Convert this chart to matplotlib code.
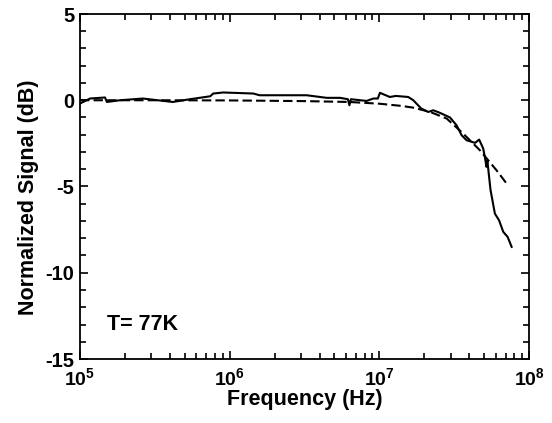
import matplotlib
matplotlib.use("Agg")
import matplotlib.pyplot as plt
import numpy as np
from matplotlib.ticker import LogLocator, MultipleLocator, LogFormatterMathtext

plt.rcParams['font.family'] = ['Liberation Sans', 'DejaVu Sans']
plt.rcParams['font.weight'] = 'bold'
plt.rcParams['axes.unicode_minus'] = False
plt.rcParams['mathtext.fontset'] = 'custom'
plt.rcParams['mathtext.rm'] = 'Liberation Sans:bold'
plt.rcParams['mathtext.bf'] = 'Liberation Sans:bold'
plt.rcParams['mathtext.it'] = 'Liberation Sans:bold'
plt.rcParams['mathtext.default'] = 'bf'

# Measured signal (solid): log10(frequency), dB
meas_logf = [5.0, 5.067, 5.167, 5.18, 5.267, 5.42, 5.62, 5.735, 5.87, 5.89, 5.957,
             6.158, 6.2, 6.514, 6.648, 6.737, 6.79, 6.80, 6.81, 6.915, 6.96, 6.99,
             7.004, 7.07, 7.11, 7.193, 7.227, 7.28, 7.327, 7.36, 7.405, 7.472,
             7.516, 7.55, 7.583, 7.64, 7.667, 7.694, 7.705, 7.716, 7.722, 7.731,
             7.743, 7.772, 7.80, 7.828, 7.857, 7.884]
meas_db = [-0.19, 0.1, 0.16, -0.1, 0.0, 0.1, -0.1, 0.06, 0.23, 0.39, 0.45,
           0.39, 0.29, 0.29, 0.14, 0.14, 0.06, -0.29, 0.06, -0.04, 0.1, 0.1,
           0.43, 0.19, 0.25, 0.19, 0.0, -0.48, -0.68, -0.58, -0.73, -1.0,
           -1.45, -2.03, -2.32, -2.47, -2.28, -2.8, -3.29, -3.86, -3.5, -4.25,
           -5.2, -6.57, -6.96, -7.63, -7.92, -8.5]

# Model (dashed): log10(frequency), dB
model_logf = [5.0, 5.5, 6.0, 6.5, 6.8, 7.0, 7.15, 7.227, 7.34, 7.45, 7.56,
              7.672, 7.783, 7.861]
model_db = [0.0, 0.0, -0.01, -0.05, -0.1, -0.2, -0.33, -0.43, -0.68, -1.06,
            -1.93, -2.9, -4.06, -4.95]

fig = plt.figure(figsize=(5.52, 4.23), dpi=100)
ax = fig.add_axes([80/552, 1-359/423, 449/552, 345/423])

ax.plot(10**np.array(meas_logf), meas_db, color='black', lw=1.5, solid_joinstyle='round')
ax.plot(10**np.array(model_logf), model_db, color='black', lw=1.5, linestyle=(0, (4.5, 2)))

ax.set_xscale('log')
ax.set_xlim(1e5, 1e8)
ax.set_ylim(-15, 5)
ax.xaxis.set_major_locator(LogLocator(base=10, numticks=10))
ax.xaxis.set_minor_locator(LogLocator(base=10, subs=np.arange(2, 10), numticks=20))
ax.xaxis.set_major_formatter(LogFormatterMathtext())
ax.yaxis.set_major_locator(MultipleLocator(5))
ax.yaxis.set_minor_locator(MultipleLocator(1))

ax.tick_params(which='both', direction='in', top=True, right=True, width=1.2)
ax.tick_params(which='major', length=6, pad=5)
ax.tick_params(axis='x', which='major', labelsize=14, pad=6)
ax.tick_params(axis='y', which='major', labelsize=14.5, pad=4)
ax.tick_params(which='minor', length=4)
for s in ax.spines.values():
    s.set_linewidth(1.3)
for lab in ax.get_yticklabels():
    lab.set_fontweight('bold')

ax.set_xlabel('Frequency (Hz)', fontsize=15.5, fontweight='bold', labelpad=0)
ax.set_ylabel('Normalized Signal (dB)', fontsize=15.5, fontweight='bold')
ax.yaxis.set_label_coords(-0.092, 0.47)
ax.text(0.06, 0.085, 'T= 77K', transform=ax.transAxes, fontsize=15.5, fontweight='bold')

fig.savefig('out.png', dpi=100)
